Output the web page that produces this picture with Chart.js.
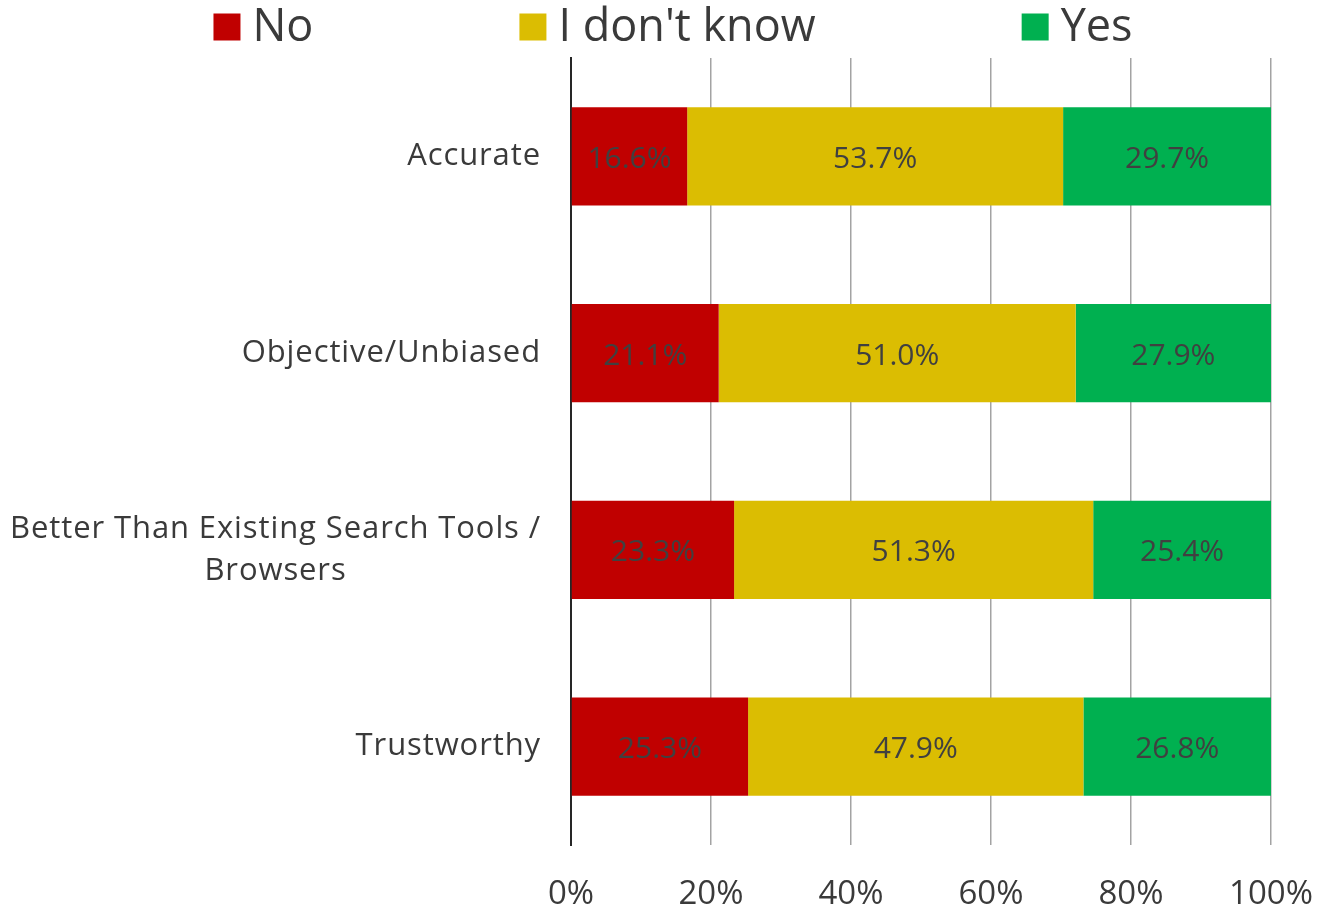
<!DOCTYPE html>
<html>
<head>
<meta charset="utf-8">
<title>Survey ratings</title>
<script src="https://cdn.jsdelivr.net/npm/chart.js@4.4.1/dist/chart.umd.min.js"></script>
<style>
    html, body { margin: 0; padding: 0; background: #fff; overflow: hidden; }
    canvas { display: block; }
</style>
</head>
<body>
<canvas id="myChart" width="1327" height="913"></canvas>
<script>
// categories (multi-line labels are arrays of lines)
const categories = [
    'Accurate',
    'Objective/Unbiased',
    ['Better Than Existing Search Tools /', 'Browsers'],
    'Trustworthy'
];
const seriesNames = ['No', "I don't know", 'Yes'];
const noValues = [16.6, 21.1, 23.3, 25.3];
const dontKnowValues = [53.7, 51.0, 51.3, 47.9];
const yesValues = [29.7, 27.9, 25.4, 26.8];
const tickValues = [0, 20, 40, 60, 80, 100];

const colors = ['#C00000', '#DBBD02', '#00B050'];
const FONT = '"Open Sans", Lato, sans-serif';
const TEXT = '#3a3a3a';

// category labels: block right-aligned, lines centred on each other
const categoryLabels = {
    id: 'categoryLabels',
    afterDraw(chart) {
        const ctx = chart.ctx;
        const yScale = chart.scales.y;
        const right = chart.chartArea.left - 30;
        const lineH = 42;
        ctx.save();
        ctx.font = '31px ' + FONT;
        ctx.letterSpacing = '0.9px';
        ctx.fillStyle = TEXT;
        ctx.textAlign = 'center';
        ctx.textBaseline = 'middle';
        categories.forEach((label, i) => {
            const lines = Array.isArray(label) ? label : [label];
            const widest = Math.max(...lines.map(l => ctx.measureText(l).width));
            const cy = yScale.getPixelForValue(i);
            lines.forEach((line, j) => {
                ctx.fillText(line, right - widest / 2, cy + (j - (lines.length - 1) / 2) * lineH);
            });
        });
        ctx.restore();
    }
};

// value labels in the middle of each segment
const segmentLabels = {
    id: 'segmentLabels',
    afterDatasetsDraw(chart) {
        const ctx = chart.ctx;
        ctx.save();
        ctx.font = '30px ' + FONT;
        ctx.fillStyle = '#404040';
        ctx.textAlign = 'center';
        ctx.textBaseline = 'middle';
        chart.data.datasets.forEach((ds, di) => {
            chart.getDatasetMeta(di).data.forEach((bar, i) => {
                const cx = (bar.x + bar.base) / 2;
                ctx.fillText(ds.data[i].toFixed(1) + '%', cx, bar.y + 3);
            });
        });
        ctx.restore();
    }
};

// legend row across the top
const topLegend = {
    id: 'topLegend',
    afterDraw(chart) {
        const ctx = chart.ctx;
        const box = 27, gapText = 12, gapItem = 206;
        ctx.save();
        ctx.font = '45px ' + FONT;
        ctx.textBaseline = 'middle';
        ctx.textAlign = 'left';
        const items = chart.data.datasets.map(ds => ({
            label: ds.label,
            color: ds.backgroundColor,
            w: box + gapText + ctx.measureText(ds.label).width
        }));
        const total = items.reduce((s, it) => s + it.w, 0) + gapItem * (items.length - 1);
        let x = 673 - total / 2;
        const cy = 27;
        items.forEach(it => {
            ctx.fillStyle = it.color;
            ctx.fillRect(x, cy - box / 2, box, box);
            ctx.fillStyle = TEXT;
            ctx.fillText(it.label, x + box + gapText, cy + 1);
            x += it.w + gapItem;
        });
        ctx.restore();
    }
};

const ctx = document.getElementById('myChart').getContext('2d');
const myChart = new Chart(ctx, {
    type: 'bar',
    data: {
        labels: categories,
        datasets: [
            { label: seriesNames[0], data: noValues, backgroundColor: colors[0] },
            { label: seriesNames[1], data: dontKnowValues, backgroundColor: colors[1] },
            { label: seriesNames[2], data: yesValues, backgroundColor: colors[2] }
        ]
    },
    options: {
        indexAxis: 'y',
        responsive: false,
        animation: false,
        datasets: {
            bar: { barPercentage: 0.5, categoryPercentage: 1.0 }
        },
        layout: {
            padding: { top: 58, left: 571, right: 56, bottom: 2 }
        },
        plugins: {
            legend: { display: false },
            tooltip: { enabled: false }
        },
        scales: {
            x: {
                stacked: true,
                min: 0,
                max: 100,
                afterBuildTicks(scale) {
                    scale.ticks = tickValues.map(v => ({ value: v }));
                },
                // keep the axis band tight; the 100% label may overhang the right padding
                afterFit(scale) {
                    scale.height = 66;
                    scale.paddingRight = 0;
                },
                grid: {
                    color: '#a3a3a3',
                    lineWidth: 1.5,
                    drawTicks: false
                },
                border: { display: false },
                ticks: {
                    padding: 30,
                    maxRotation: 0,
                    color: TEXT,
                    font: { family: FONT, size: 33 },
                    callback: v => v + '%'
                }
            },
            y: {
                stacked: true,
                grid: { display: false, drawTicks: false },
                border: { display: true, color: '#262626', width: 2 },
                ticks: { display: false }
            }
        }
    },
    plugins: [categoryLabels, segmentLabels, topLegend]
});
</script>
</body>
</html>
